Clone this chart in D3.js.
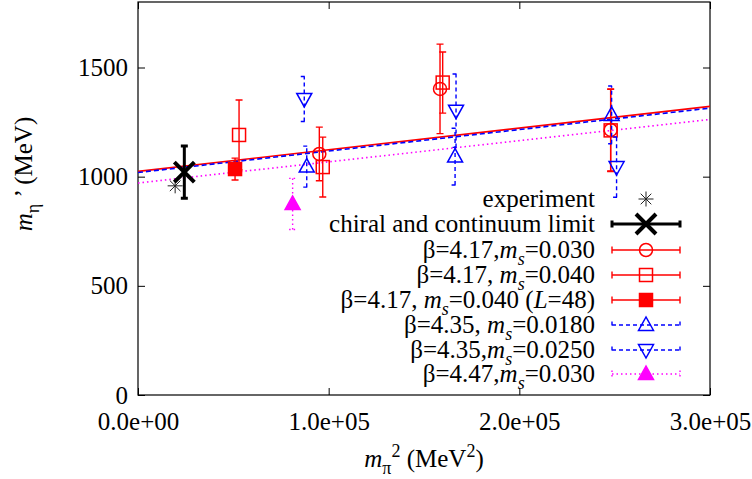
<!DOCTYPE html>
<html>
<head>
<meta charset="utf-8">
<script src="https://cdn.jsdelivr.net/npm/d3@7"></script>
<style>
  body { margin: 0; background: #fff; }
  text { font-family: "Liberation Serif", "Times New Roman", serif; font-size: 25px; fill: #000; }
</style>
</head>
<body>
<svg id="chart" width="752" height="479"></svg>
<script>
// values: x = m_pi^2 (MeV^2), y = m_eta' (MeV), e = error
var expX = [19480], expY = [958];
var chiX = [24300], chiY = [1021], chiE = [120];
var b417aX = [95100, 158400, 247900], b417aY = [1104, 1402, 1214], b417aE = [123, 205, 188];
var b417bX = [53000, 96900, 159800, 247900], b417bY = [1191, 1044, 1431, 1212], b417bE = [160, 137, 140, 188];
var b417LX = [50900], b417LY = [1035], b417LE = [50];
var b435aX = [88500, 166300, 248400], b435aY = [1046, 1092, 1283], b435aE = [94, 130, 132];
var b435bX = [87200, 166800, 251000], b435bY = [1356, 1302, 1044], b435bE = [103, 168, 138];
var b447X = [81100], b447Y = [875], b447E = [117];

// linear fits, value at the two ends of the x range
var fitX = [0, 300000];
var fitRed = [1024, 1322], fitBlue = [1019, 1314], fitMag = [971, 1262];

var xTicks = [0, 100000, 200000, 300000];
var yTicks = [0, 500, 1000, 1500];

// legend labels, pieces: [text, style]  (i = italic, s = subscript)
var legendText = [
  [["experiment", ""]],
  [["chiral and continuum limit", ""]],
  [["β=4.17,", ""], ["m", "i"], ["s", "s"], ["=0.030", ""]],
  [["β=4.17, ", ""], ["m", "i"], ["s", "s"], ["=0.040", ""]],
  [["β=4.17, ", ""], ["m", "i"], ["s", "s"], ["=0.040 (", ""], ["L", "i"], ["=48)", ""]],
  [["β=4.35, ", ""], ["m", "i"], ["s", "s"], ["=0.0180", ""]],
  [["β=4.35,", ""], ["m", "i"], ["s", "s"], ["=0.0250", ""]],
  [["β=4.47,", ""], ["m", "i"], ["s", "s"], ["=0.030", ""]]
];

var RED = "#ff0000", BLUE = "#0000ff", MAG = "#ff00ff";

var series = [
  { xs: b417aX, ys: b417aY, es: b417aE, color: RED, dash: null, mark: "circle", legend: 2 },
  { xs: b417bX, ys: b417bY, es: b417bE, color: RED, dash: null, mark: "square", legend: 3 },
  { xs: b417LX, ys: b417LY, es: b417LE, color: RED, dash: null, mark: "fsquare", legend: 4 },
  { xs: b435aX, ys: b435aY, es: b435aE, color: BLUE, dash: "4,3", mark: "tri", legend: 5 },
  { xs: b435bX, ys: b435bY, es: b435bE, color: BLUE, dash: "4,3", mark: "dtri", legend: 6 },
  { xs: b447X, ys: b447Y, es: b447E, color: MAG, dash: "1.5,3", mark: "ftri", legend: 7 }
];

var pL = 138, pR = 710, pT = 2, pB = 395;
var x = d3.scaleLinear().domain([0, 300000]).range([pL, pR]);
var y = d3.scaleLinear().domain([0, 1800]).range([pB, pT]);

var svg = d3.select("#chart");

// axes, ticks inward and mirrored
function fmtX(d) {
  return d3.format(".1e")(d).replace(/e([+-])(\d)$/, "e$10$2");
}
svg.append("g").attr("transform", "translate(" + pL + ",0)")
  .call(d3.axisLeft(y).tickValues(yTicks).tickSize(-7).tickPadding(10).tickFormat(d3.format("d")));
svg.append("g").attr("transform", "translate(" + pR + ",0)")
  .call(d3.axisRight(y).tickValues(yTicks).tickSize(-7).tickFormat(""));
svg.append("g").attr("transform", "translate(0," + pB + ")")
  .call(d3.axisBottom(x).tickValues(xTicks).tickSize(-7).tickPadding(17).tickFormat(fmtX));
svg.append("g").attr("transform", "translate(0," + pT + ")")
  .call(d3.axisTop(x).tickValues(xTicks).tickSize(-7).tickFormat(""));
svg.selectAll(".domain").remove();
svg.selectAll(".tick line").attr("stroke", "#000").attr("stroke-width", 1);
svg.selectAll(".tick text")
  .attr("font-family", null).attr("font-size", null).style("font-size", "25px");

svg.append("rect")
  .attr("x", pL).attr("y", pT)
  .attr("width", pR - pL).attr("height", pB - pT)
  .attr("fill", "none").attr("stroke", "#000").attr("stroke-width", 1.2);

// axis titles
var yl = svg.append("text")
  .attr("transform", "translate(32,174) rotate(-90)")
  .attr("text-anchor", "middle");
yl.append("tspan").style("font-style", "italic").text("m");
yl.append("tspan").attr("dy", 7).style("font-size", "18px").text("η");
yl.append("tspan").attr("dy", -7).text(" ’ (MeV)");

var xl = svg.append("text")
  .attr("x", (pL + pR) / 2).attr("y", 467)
  .attr("text-anchor", "middle");
xl.append("tspan").style("font-style", "italic").text("m");
xl.append("tspan").attr("dy", 7).style("font-size", "18px").text("π");
xl.append("tspan").attr("dy", -17).style("font-size", "18px").text("2");
xl.append("tspan").attr("dy", 10).text(" (MeV");
xl.append("tspan").attr("dy", -10).style("font-size", "18px").text("2");
xl.append("tspan").attr("dy", 10).text(")");

var plot = svg.append("g");
svg.append("clipPath").attr("id", "clip").append("rect")
  .attr("x", pL).attr("y", pT).attr("width", pR - pL).attr("height", pB - pT);

// fit lines
var line = d3.line().x(function(d) { return x(d[0]); }).y(function(d) { return y(d[1]); });
[[fitRed, RED, null, 1.6], [fitBlue, BLUE, "5,3", 1.6], [fitMag, MAG, "1.5,3", 1.6]].forEach(function(f) {
  plot.append("path")
    .attr("clip-path", "url(#clip)")
    .attr("d", line(fitX.map(function(v, i) { return [v, f[0][i]]; })))
    .attr("fill", "none").attr("stroke", f[1]).attr("stroke-width", f[3])
    .attr("stroke-dasharray", f[2]);
});

// marker drawing
function marker(g, kind, cx, cy, color) {
  var s = 6.5;
  if (kind == "circle") {
    g.append("circle").attr("cx", cx).attr("cy", cy).attr("r", s)
      .attr("fill", "none").attr("stroke", color).attr("stroke-width", 1.5);
  } else if (kind == "square" || kind == "fsquare") {
    g.append("rect").attr("x", cx - s).attr("y", cy - s).attr("width", 2 * s).attr("height", 2 * s)
      .attr("fill", kind == "fsquare" ? color : "none").attr("stroke", color).attr("stroke-width", 1.5);
  } else if (kind == "tri" || kind == "ftri" || kind == "dtri") {
    var d = kind == "dtri" ? -1 : 1;
    var pts = [[cx, cy - d * 8], [cx - 7.5, cy + d * 5.5], [cx + 7.5, cy + d * 5.5]];
    g.append("path").attr("d", "M" + pts.join("L") + "Z")
      .attr("fill", kind == "ftri" ? color : "none").attr("stroke", color).attr("stroke-width", 1.5);
  } else if (kind == "star") {
    var r = 7.5, a = r * 0.707;
    g.append("path")
      .attr("d", "M" + (cx - r) + "," + cy + "H" + (cx + r) + "M" + cx + "," + (cy - r) + "V" + (cy + r) +
        "M" + (cx - a) + "," + (cy - a) + "L" + (cx + a) + "," + (cy + a) +
        "M" + (cx - a) + "," + (cy + a) + "L" + (cx + a) + "," + (cy - a))
      .attr("stroke", "#222").attr("stroke-width", 1);
  } else if (kind == "cross") {
    var c = 10;
    g.append("path")
      .attr("d", "M" + (cx - c) + "," + (cy - c) + "L" + (cx + c) + "," + (cy + c) +
        "M" + (cx - c) + "," + (cy + c) + "L" + (cx + c) + "," + (cy - c))
      .attr("stroke", "#000").attr("stroke-width", 4);
  }
}

function errBar(g, cx, lo, hi, color, dash, w) {
  g.append("path")
    .attr("d", "M" + cx + "," + y(lo) + "V" + y(hi) +
      "M" + (cx - 3.5) + "," + y(lo) + "H" + (cx + 3.5) +
      "M" + (cx - 3.5) + "," + y(hi) + "H" + (cx + 3.5))
    .attr("fill", "none").attr("stroke", color).attr("stroke-width", w)
    .attr("stroke-dasharray", dash);
}

// experiment and chiral limit
marker(plot, "star", x(expX[0]), y(expY[0]), "#000");
errBar(plot, x(chiX[0]), chiY[0] - chiE[0], chiY[0] + chiE[0], "#000", null, 3);
marker(plot, "cross", x(chiX[0]), y(chiY[0]), "#000");

// lattice data
series.forEach(function(s) {
  s.xs.forEach(function(v, i) {
    errBar(plot, x(v), s.ys[i] - s.es[i], s.ys[i] + s.es[i], s.color, s.dash, 1.4);
    marker(plot, s.mark, x(v), y(s.ys[i]), s.color);
  });
});

// legend
var legY = [199, 224, 250, 275, 300, 325, 350, 374];
var leg = svg.append("g");
legendText.forEach(function(pieces, k) {
  var t = leg.append("text").attr("x", 595).attr("y", legY[k] + 8).attr("text-anchor", "end");
  var shifted = 0;
  pieces.forEach(function(p) {
    var ts = t.append("tspan").text(p[0]);
    if (p[1] == "i") ts.style("font-style", "italic");
    if (p[1] == "s") { ts.attr("dy", 7).style("font-size", "18px").style("font-style", "italic"); shifted = 7; }
    else if (shifted) { ts.attr("dy", -shifted); shifted = 0; }
  });
});
function legSample(k, color, dash, w) {
  var yy = legY[k];
  leg.append("path")
    .attr("d", "M612," + yy + "H680M612," + (yy - 3.5) + "V" + (yy + 3.5) + "M680," + (yy - 3.5) + "V" + (yy + 3.5))
    .attr("fill", "none").attr("stroke", color).attr("stroke-width", w).attr("stroke-dasharray", dash);
}
marker(leg, "star", 646, legY[0], "#000");
legSample(1, "#000", null, 3);
marker(leg, "cross", 646, legY[1], "#000");
series.forEach(function(s) {
  legSample(s.legend, s.color, s.dash, 1.4);
  marker(leg, s.mark, 646, legY[s.legend], s.color);
});
</script>
</body>
</html>
